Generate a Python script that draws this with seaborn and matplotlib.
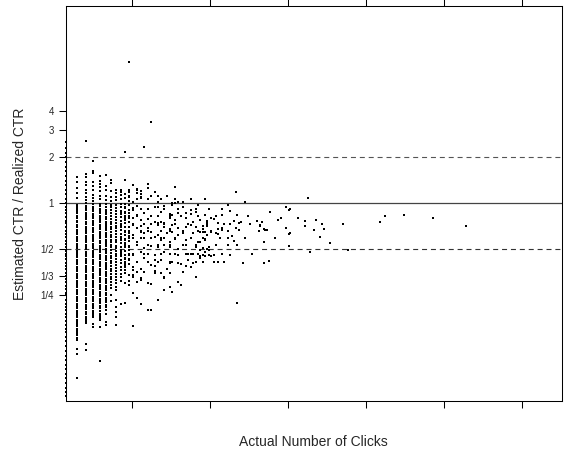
import numpy as np
import pandas as pd
import matplotlib
matplotlib.use("Agg")
import matplotlib.pyplot as plt
from matplotlib.ticker import NullLocator
import seaborn as sns

sns.set_theme(style="white")
plt.rcParams["font.family"] = ["Liberation Sans", "DejaVu Sans"]

# estimated / realized CTR for ads with few clicks (one list per click count)
ratio_1click = [2.5, 2.3, 2.14, 2.0, 1.87, 1.74, 1.62, 1.52, 1.41, 1.32, 1.23, 1.15, 1.07, 1.0,
                0.95, 0.9, 0.86, 0.81, 0.77, 0.74, 0.7, 0.66, 0.63, 0.6, 0.57, 0.54, 0.52, 0.49,
                0.47, 0.45, 0.43, 0.41, 0.39, 0.37, 0.35, 0.335, 0.32, 0.305, 0.29, 0.275, 0.26,
                0.25, 0.235, 0.22, 0.21, 0.2, 0.19, 0.18, 0.17, 0.16, 0.15, 0.144, 0.134, 0.125,
                0.117, 0.109, 0.1, 0.095, 0.088, 0.082, 0.077, 0.072, 0.067, 0.062, 0.058, 0.055]
ratio_2click = [1.49, 1.38, 1.26, 1.16, 1.08, 0.98, 0.95, 0.92, 0.89, 0.86, 0.83, 0.8, 0.77, 0.75,
                0.72, 0.7, 0.67, 0.65, 0.63, 0.6, 0.585, 0.565, 0.545, 0.527, 0.51, 0.49, 0.475,
                0.46, 0.443, 0.428, 0.413, 0.4, 0.385, 0.372, 0.36, 0.347, 0.336, 0.324, 0.313,
                0.302, 0.292, 0.282, 0.272, 0.263, 0.254, 0.245, 0.237, 0.229, 0.221, 0.214, 0.206,
                0.199, 0.192, 0.186, 0.18, 0.174, 0.168, 0.162, 0.157, 0.151, 0.146, 0.141, 0.137,
                0.132, 0.127, 0.111, 0.103, 0.072]
ratio_3click = [2.57, 1.55, 1.48, 1.38, 1.31, 1.23, 1.16, 1.1, 1.05, 1.0, 0.965, 0.93, 0.9, 0.87,
                0.84, 0.81, 0.785, 0.76, 0.73, 0.705, 0.68, 0.66, 0.64, 0.615, 0.595, 0.575, 0.555,
                0.535, 0.52, 0.5, 0.483, 0.467, 0.45, 0.435, 0.42, 0.405, 0.392, 0.38, 0.365, 0.354,
                0.341, 0.33, 0.318, 0.308, 0.297, 0.287, 0.277, 0.268, 0.258, 0.25, 0.24, 0.233,
                0.225, 0.217, 0.21, 0.203, 0.196, 0.189, 0.182, 0.176, 0.17, 0.165, 0.12, 0.11]
ratio_4click = [1.9, 1.63, 1.59, 1.37, 1.3, 1.22, 1.14, 1.09, 1.03, 0.985, 0.95, 0.915, 0.885,
                0.855, 0.825, 0.8, 0.77, 0.745, 0.72, 0.695, 0.67, 0.65, 0.625, 0.605, 0.585, 0.565,
                0.545, 0.527, 0.51, 0.49, 0.475, 0.46, 0.443, 0.428, 0.413, 0.4, 0.385, 0.372, 0.36,
                0.347, 0.336, 0.324, 0.313, 0.302, 0.292, 0.282, 0.272, 0.263, 0.254, 0.245, 0.237,
                0.229, 0.221, 0.214, 0.206, 0.199, 0.192, 0.186, 0.18, 0.162, 0.155]
ratio_5click = [1.5, 1.4, 1.33, 1.27, 1.2, 1.12, 1.06, 0.99, 0.955, 0.92, 0.89, 0.86, 0.83, 0.805,
                0.775, 0.75, 0.725, 0.7, 0.675, 0.65, 0.63, 0.61, 0.59, 0.57, 0.55, 0.53, 0.512,
                0.495, 0.478, 0.462, 0.446, 0.43, 0.415, 0.4, 0.387, 0.374, 0.362, 0.35, 0.338,
                0.326, 0.315, 0.304, 0.294, 0.284, 0.274, 0.265, 0.256, 0.247, 0.238, 0.23, 0.222,
                0.214, 0.206, 0.198, 0.19, 0.183, 0.177, 0.172, 0.155, 0.093]
ratio_6click = [1.53, 1.3, 1.22, 1.12, 1.05, 0.99, 0.95, 0.91, 0.88, 0.85, 0.82, 0.79, 0.76, 0.735,
                0.71, 0.69, 0.665, 0.64, 0.62, 0.6, 0.58, 0.56, 0.54, 0.525, 0.505, 0.49, 0.472,
                0.456, 0.44, 0.425, 0.41, 0.396, 0.383, 0.37, 0.357, 0.345, 0.333, 0.322, 0.311, 0.3,
                0.29, 0.28, 0.27, 0.26, 0.251, 0.242, 0.234, 0.226, 0.218, 0.21, 0.2, 0.19, 0.168, 0.16]
ratio_7click = [1.42, 1.35, 1.2, 1.1, 1.04, 0.98, 0.94, 0.9, 0.865, 0.83, 0.79, 0.76, 0.73, 0.7,
                0.675, 0.65, 0.62, 0.6, 0.575, 0.555, 0.535, 0.515, 0.495, 0.475, 0.455, 0.44, 0.42,
                0.405, 0.39, 0.375, 0.36, 0.345, 0.33, 0.318, 0.305, 0.293, 0.28, 0.25, 0.23]
ratio_8click = [1.22, 1.17, 1.1, 1.05, 0.975, 0.935, 0.89, 0.855, 0.815, 0.78, 0.745, 0.715, 0.685,
                0.655, 0.63, 0.605, 0.58, 0.555, 0.53, 0.51, 0.49, 0.47, 0.45, 0.43, 0.412, 0.395,
                0.378, 0.362, 0.346, 0.33, 0.315, 0.3, 0.285, 0.27, 0.233, 0.21, 0.195, 0.18, 0.16]
ratio_9click = [1.22, 1.18, 1.13, 1.06, 0.99, 0.94, 0.895, 0.85, 0.81, 0.77, 0.735, 0.7, 0.665,
                0.635, 0.605, 0.575, 0.55, 0.52, 0.495, 0.47, 0.45, 0.425, 0.405, 0.385, 0.365,
                0.345, 0.328, 0.31, 0.22]
ratio_10click = [2.16, 1.42, 1.15, 1.08, 0.985, 0.93, 0.875, 0.825, 0.78, 0.74, 0.7, 0.66, 0.62,
                 0.585, 0.55, 0.52, 0.49, 0.46, 0.435, 0.41, 0.385, 0.365, 0.348, 0.3, 0.222]
ratio_11click = [8.37, 1.22, 1.19, 1.1, 1.04, 0.97, 0.91, 0.86, 0.8, 0.75, 0.7, 0.655, 0.61, 0.57,
                 0.53, 0.495, 0.46, 0.43, 0.4, 0.34, 0.31]

# ads with more clicks
cloud_clicks = [12, 13, 13, 14, 16, 16, 13, 14, 14, 25, 52, 57, 12, 19, 26, 28, 25, 24, 15, 17, 97,
                10, 11, 12, 13, 18, 19, 21, 24, 28, 31, 34,
                9, 10, 12, 13, 15, 20, 23, 24, 26, 29, 31, 33, 37,
                10, 11, 12, 14, 16, 18, 19, 20, 21, 23, 25, 29, 32, 35, 38,
                9, 10, 12, 13, 14, 16, 19, 21, 23, 24, 26, 29, 31, 33, 36,
                10, 11, 12, 14, 15, 17, 19, 22, 24, 26, 28, 32, 36, 38,
                9, 10, 12, 13, 15, 18, 20, 21, 23, 25, 29, 31, 34, 37,
                10, 11, 13, 15, 17, 19, 21, 23, 26, 29, 33, 36,
                9, 11, 12, 14, 16, 18, 21, 23, 26, 31, 37,
                10, 11, 13, 15, 18, 23, 30, 35, 36,
                10, 12, 14, 17, 22, 27, 31,
                10, 12, 14, 18, 21, 23, 33,
                48, 72, 77, 64, 67, 53, 49, 45, 51, 54, 55, 40, 41, 38, 36, 38, 35, 37, 43, 46,
                45, 52, 43, 45, 40, 42, 43, 50, 54, 66, 68, 69, 51, 48, 75, 68, 37, 35, 48, 39,
                38, 35, 37, 41, 39, 49, 61, 43, 56, 68, 71,
                29, 26, 23, 20, 18, 36, 35, 32, 30, 12, 12, 13, 14, 16, 17, 18, 21, 21, 26, 24,
                23, 19, 14, 12, 17, 53, 32, 46, 40, 39, 12, 13, 16,
                82, 84, 85, 66, 70, 79, 82, 84, 85, 84, 90, 95, 95, 103, 108, 102, 109, 106, 114,
                99, 124, 128, 156, 161, 179, 209, 245,
                14, 16, 21, 26, 33, 39, 45,
                11, 13, 17, 19, 23, 27, 34, 42, 59,
                12, 15, 17, 21, 25, 30, 38, 49, 60,
                10, 14, 16, 20, 23, 28, 34, 40, 48, 65,
                11, 14, 17, 20, 25, 31, 36, 44, 57,
                13, 16, 19, 23, 28, 33, 42, 53,
                12, 15, 20, 25, 29, 34, 45,
                10, 16, 19, 24, 33, 41,
                13, 15, 20, 28,
                11, 17, 27,
                11, 17, 19, 22,
                13, 16, 20, 25, 31, 37,
                14, 18]
cloud_ratio = [1.32, 1.235, 1.16, 1.1, 1.34, 1.26, 1.22, 1.15, 1.09, 1.28, 1.19, 1.015, 1.02, 1.02,
               1.02, 1.02, 1.0, 1.0, 2.35, 3.42, 1.08,
               0.95, 0.975, 0.928, 0.96, 0.95, 0.95, 0.96, 0.975, 0.95, 0.904, 0.975,
               0.881, 0.86, 0.904, 0.838, 0.86, 0.881, 0.85, 0.838, 0.86, 0.868, 0.85, 0.881, 0.838,
               0.798, 0.758, 0.798, 0.777, 0.786, 0.758, 0.74, 0.758, 0.747, 0.798, 0.777, 0.798,
               0.758, 0.777, 0.74,
               0.72, 0.703, 0.72, 0.686, 0.711, 0.686, 0.72, 0.703, 0.676, 0.72, 0.686, 0.703, 0.72,
               0.696, 0.676,
               0.652, 0.636, 0.62, 0.652, 0.636, 0.652, 0.62, 0.636, 0.652, 0.62, 0.642, 0.636,
               0.652, 0.62,
               0.59, 0.575, 0.59, 0.561, 0.59, 0.605, 0.575, 0.59, 0.561, 0.581, 0.575, 0.59, 0.561,
               0.575,
               0.533, 0.52, 0.533, 0.507, 0.526, 0.515, 0.533, 0.52, 0.5, 0.533, 0.52, 0.507,
               0.483, 0.47, 0.459, 0.483, 0.47, 0.459, 0.483, 0.47, 0.459, 0.466, 0.483,
               0.437, 0.426, 0.415, 0.437, 0.426, 0.415, 0.426, 0.437, 0.415,
               0.395, 0.385, 0.375, 0.395, 0.375, 0.401, 0.385,
               0.348, 0.34, 0.323, 0.363, 0.331, 0.352, 0.328,
               0.975, 0.881, 0.777, 0.769, 0.751, 0.838, 0.89, 0.838, 0.769, 0.747, 0.758, 0.798,
               0.786, 0.766, 0.711, 0.711, 0.652, 0.652, 0.74, 0.736,
               0.686, 0.692, 0.676, 0.669, 0.652, 0.636, 0.627, 0.614, 0.669, 0.72, 0.676, 0.669,
               0.569, 0.59, 0.59, 0.561, 0.581, 0.561, 0.536, 0.515,
               0.5, 0.452, 0.452, 0.459, 0.459, 0.459, 0.47, 0.415, 0.405, 0.405, 0.421,
               0.389, 0.405, 0.409, 0.426, 0.389, 0.459, 0.495, 0.47, 0.47, 0.366, 0.331, 0.307,
               0.315, 0.3, 0.395, 0.348, 0.323, 0.271, 0.307, 0.264,
               0.285, 0.233, 0.22, 0.157, 0.2, 0.222, 0.409, 0.415, 0.452, 0.495, 0.258, 0.239, 0.2,
               0.95, 0.904, 0.913, 0.714, 0.672, 0.801, 0.689, 0.63, 0.639, 0.526, 0.798, 0.763,
               0.714, 0.777, 0.736, 0.669, 0.676, 0.602, 0.55,
               0.48, 0.732, 0.495, 0.751, 0.83, 0.835, 0.805, 0.71,
               0.918, 0.912, 0.921, 0.916, 0.92, 0.914, 0.918,
               0.826, 0.83, 0.822, 0.828, 0.825, 0.83, 0.823, 0.827, 0.826,
               0.732, 0.735, 0.729, 0.733, 0.73, 0.736, 0.731, 0.734, 0.732,
               0.658, 0.655, 0.66, 0.657, 0.661, 0.656, 0.659, 0.657, 0.66, 0.656,
               0.594, 0.597, 0.592, 0.595, 0.593, 0.596, 0.594, 0.592, 0.595,
               0.534, 0.536, 0.532, 0.535, 0.533, 0.537, 0.534, 0.533,
               0.466, 0.468, 0.464, 0.467, 0.465, 0.466, 0.468,
               0.413, 0.415, 0.411, 0.414, 0.412, 0.413,
               0.355, 0.357, 0.353, 0.356,
               0.293, 0.295, 0.291,
               1.117, 1.12, 1.115, 1.118,
               1.066, 1.068, 1.064, 1.067, 1.065, 1.066,
               1.2, 1.19]

stripes = {1: ratio_1click, 2: ratio_2click, 3: ratio_3click, 4: ratio_4click,
           5: ratio_5click, 6: ratio_6click, 7: ratio_7click, 8: ratio_8click,
           9: ratio_9click, 10: ratio_10click, 11: ratio_11click}

rows = []
for k, vals in stripes.items():
    for v in vals:
        rows.append((k, v))
for k, v in zip(cloud_clicks, cloud_ratio):
    rows.append((k, v))
df = pd.DataFrame(rows, columns=["clicks", "ratio"])

y_ticks = [1 / 4, 1 / 3, 1 / 2, 1, 2, 3, 4]
y_labels = ["1/4", "1/3", "1/2", "1", "2", "3", "4"]

fig = plt.figure(figsize=(5.65, 4.53), dpi=100)
ax = fig.add_axes([66 / 565, 1 - 401 / 453, 495.7 / 565, 395.3 / 453])
ax.set_xscale("function", functions=(lambda x: np.sqrt(np.clip(x, 0, None)), np.square))
ax.set_yscale("log", base=2)

ax.axhline(1, color="#444444", lw=0.9, zorder=1)
ax.axhline(2, color="#555555", lw=0.8, ls=(0, (4.5, 3.5)), zorder=1)
ax.axhline(0.5, color="#333333", lw=0.8, ls=(0, (4.5, 3.5)), zorder=1)

sns.scatterplot(data=df, x="clicks", y="ratio", ax=ax, marker="s", s=3.3,
                color="black", linewidth=0, legend=False, zorder=3, clip_on=False)

ax.set_xlim(1, 367)
ax.set_ylim(1 / 19.6, 19.6)
ax.set_xticks([11.6, 39.5, 83.6, 144, 220.7, 313.8])
ax.set_xticklabels([])
ax.set_yticks(y_ticks)
ax.set_yticklabels(y_labels)
ax.xaxis.set_minor_locator(NullLocator())
ax.yaxis.set_minor_locator(NullLocator())

ax.tick_params(axis="x", which="major", top=True, bottom=True, direction="out",
               length=4.8, width=0.75, color="black", labelbottom=False)
ax.tick_params(axis="y", which="major", left=True, right=False, direction="out",
               length=4.8, width=0.75, color="black", labelsize=7, pad=4)
for sp in ax.spines.values():
    sp.set_color("black")
    sp.set_linewidth(0.75)

ax.set_xlabel("Actual Number of Clicks", fontsize=10, va="center")
ax.set_ylabel("Estimated CTR / Realized CTR", fontsize=10, va="center")
ax.xaxis.set_label_coords(0.5, -0.104)
ax.yaxis.set_label_coords(-0.092, 0.5)

fig.savefig("out.png", dpi=100)
